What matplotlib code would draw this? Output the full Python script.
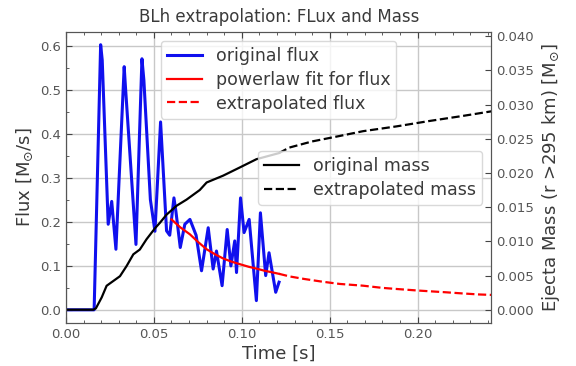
import matplotlib
matplotlib.use("Agg")
import matplotlib.pyplot as plt
from matplotlib.ticker import MultipleLocator, FormatStrFormatter

# Flux through the detector sphere (time in s, flux in Msun/s)
t_flux = [0.0, 0.0160, 0.0197, 0.0206, 0.0240, 0.0260, 0.0284, 0.0331, 0.0337,
          0.0398, 0.0432, 0.0443, 0.0480, 0.0506, 0.0538, 0.0572, 0.0590,
          0.0614, 0.0625, 0.0650, 0.0676, 0.0705, 0.0740, 0.0771, 0.0809,
          0.0837, 0.0856, 0.0888, 0.0917, 0.0938, 0.0960, 0.0970, 0.0993,
          0.1013, 0.1042, 0.1083, 0.1106, 0.1136, 0.1155, 0.1193, 0.1212]
flux = [0.0, 0.0, 0.604, 0.569, 0.195, 0.247, 0.138, 0.554, 0.515,
        0.149, 0.572, 0.523, 0.251, 0.179, 0.428, 0.180, 0.170,
        0.255, 0.225, 0.142, 0.195, 0.206, 0.170, 0.089, 0.187,
        0.093, 0.134, 0.055, 0.183, 0.100, 0.157, 0.085, 0.255,
        0.176, 0.206, 0.021, 0.221, 0.078, 0.130, 0.040, 0.063]

# Power-law fit over the late-time flux and its continuation
t_fit = [0.0600, 0.0650, 0.0705, 0.0750, 0.0800, 0.0850, 0.0894, 0.0940,
         0.0989, 0.1040, 0.1083, 0.1130, 0.1178, 0.1212]
flux_fit = [0.206, 0.188, 0.172, 0.155, 0.138, 0.126, 0.117, 0.110,
            0.104, 0.098, 0.094, 0.089, 0.085, 0.082]
t_fit_ext = [0.1212, 0.1273, 0.1360, 0.1460, 0.1557, 0.1690, 0.1800,
             0.1880, 0.2000, 0.2080, 0.2160, 0.2250, 0.2350, 0.2420]
flux_fit_ext = [0.082, 0.076, 0.070, 0.064, 0.059, 0.055, 0.050,
                0.0475, 0.044, 0.042, 0.040, 0.0375, 0.035, 0.034]

# Cumulative ejecta mass (Msun) and its extrapolation
t_mass = [0.0, 0.0155, 0.0170, 0.0203, 0.0231, 0.0269, 0.0307, 0.0345,
          0.0383, 0.0420, 0.0458, 0.0506, 0.0534, 0.0572, 0.0629, 0.0686,
          0.0761, 0.0800, 0.0894, 0.0989, 0.1083, 0.1212]
mass = [0.0, 0.0, 0.0002, 0.0018, 0.0035, 0.0042, 0.0049, 0.0064,
        0.0081, 0.0088, 0.0103, 0.0119, 0.0127, 0.0139, 0.0152, 0.0161,
        0.0175, 0.0186, 0.0196, 0.0208, 0.0220, 0.0229]
t_mass_ext = [0.1212, 0.1270, 0.1400, 0.1557, 0.1690, 0.1880, 0.2070,
              0.2250, 0.2420]
mass_ext = [0.0229, 0.0237, 0.0246, 0.0254, 0.0261, 0.0268, 0.0276,
            0.0283, 0.0290]

text_col = "#3a3a3a"
tick_col = "#555555"

fig = plt.figure(figsize=(5.76, 3.66), dpi=100)
ax = fig.add_axes([0.1146, 0.1175, 0.7385, 0.7951])
ax2 = ax.twinx()

l1, = ax.plot(t_flux, flux, color="#1010ee", lw=2.2, label="original flux")
l2, = ax.plot(t_fit, flux_fit, color="red", lw=1.6, label="powerlaw fit for flux")
l3, = ax.plot(t_fit_ext, flux_fit_ext, color="red", lw=1.6, ls="--",
              label="extrapolated flux")
m1, = ax2.plot(t_mass, mass, color="black", lw=1.6, label="original mass")
m2, = ax2.plot(t_mass_ext, mass_ext, color="black", lw=1.6, ls="--",
               label="extrapolated mass")

ax.set_xlim(0, 0.242)
ax.set_ylim(-0.030, 0.633)
ax2.set_ylim(-0.00194, 0.0406)

ax.xaxis.set_major_locator(MultipleLocator(0.05))
ax.xaxis.set_minor_locator(MultipleLocator(0.01))
ax.yaxis.set_major_locator(MultipleLocator(0.1))
ax.yaxis.set_minor_locator(MultipleLocator(0.05))
ax2.yaxis.set_major_locator(MultipleLocator(0.005))
ax.xaxis.set_major_formatter(FormatStrFormatter("%.2f"))
ax.yaxis.set_major_formatter(FormatStrFormatter("%.1f"))
ax2.yaxis.set_major_formatter(FormatStrFormatter("%.3f"))

ax.grid(True, which="major", color="#c8c8c8", lw=1.0)
ax.set_axisbelow(True)

ax.tick_params(which="both", direction="in", top=True, colors="#444444",
               labelcolor=tick_col, labelsize=9.5)
ax.tick_params(which="major", length=4)
ax.tick_params(which="minor", length=2)
ax2.tick_params(which="both", direction="in", colors="#444444",
                labelcolor=tick_col, labelsize=9.5, length=4)
for a in (ax, ax2):
    for s in a.spines.values():
        s.set_color("#555555")

ax.set_xlabel("Time [s]", fontsize=13, color=text_col, labelpad=3)
ax.set_ylabel(r"Flux [M$_{\odot}$/s]", fontsize=13, color=text_col, labelpad=4)
ax2.set_ylabel(r"Ejecta Mass (r >295 km) [M$_{\odot}$]", fontsize=13,
               color=text_col, labelpad=4)
ax.set_title("BLh extrapolation: FLux and Mass", fontsize=12, color=text_col,
             pad=7)

leg1 = ax.legend(handles=[l1, l2, l3], loc="upper left",
                 bbox_to_anchor=(0.2795, 0.888), bbox_transform=fig.transFigure,
                 borderaxespad=0, fontsize=12.5, framealpha=0.8,
                 edgecolor="#d0d0d0", labelspacing=0.33, borderpad=0.35,
                 handlelength=2.0)
for t in leg1.get_texts():
    t.set_color(text_col)
leg2 = ax2.legend(handles=[m1, m2], loc="upper right",
                  bbox_to_anchor=(0.8368, 0.5874), bbox_transform=fig.transFigure,
                  borderaxespad=0, fontsize=12.5, framealpha=0.8,
                  edgecolor="#d0d0d0", labelspacing=0.33, borderpad=0.35,
                  handlelength=2.0)
for t in leg2.get_texts():
    t.set_color(text_col)

fig.savefig("out.png", dpi=100)
